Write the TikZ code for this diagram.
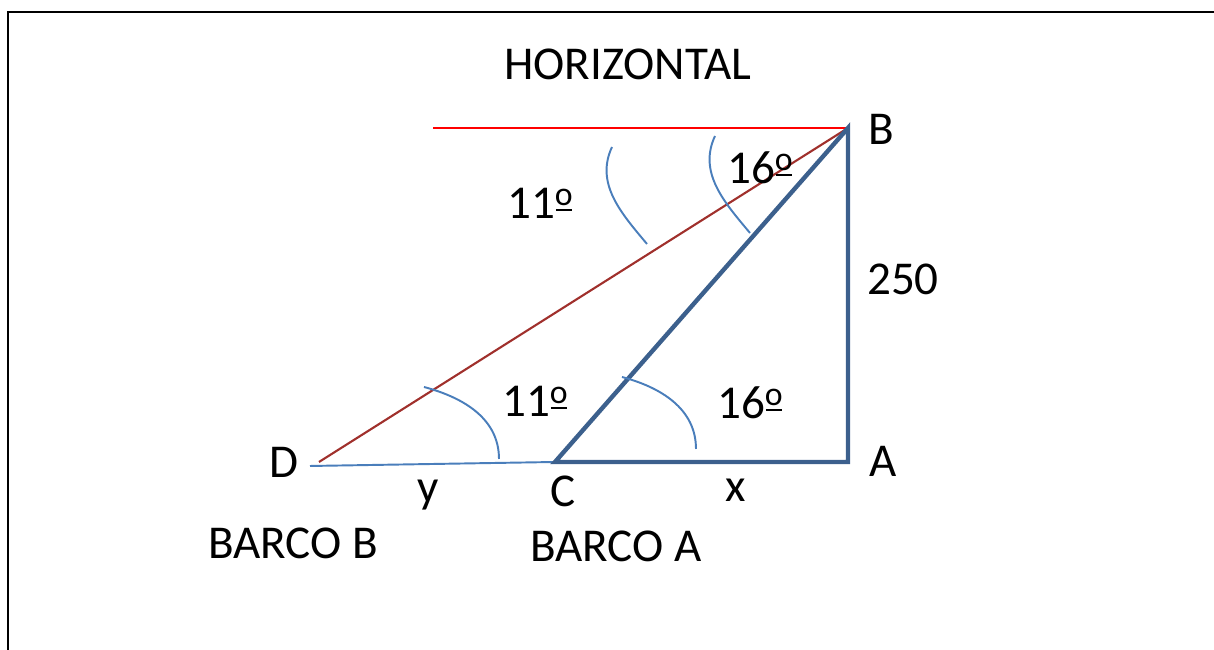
\documentclass[tikz,border=0pt]{standalone}
\usepackage{fontspec}
\setmainfont{Carlito}
\usepackage{tikz}
\definecolor{triblue}{RGB}{60,96,141}
\definecolor{arcblue}{RGB}{74,126,187}
\definecolor{linered}{RGB}{160,48,44}
\newcommand{\ordm}{\ooalign{\raisebox{0.29em}{\fontsize{9.6}{10}\selectfont o}\cr\hidewidth\rule[0.16em]{0.34em}{0.045em}\hidewidth\cr}}

\begin{document}
\begin{tikzpicture}[
    lbl/.style={anchor=base, inner sep=0pt, font=\fontsize{13.4}{16}\selectfont},
    arcline/.style={arcblue, line width=0.55pt},
    triline/.style={triblue, line width=1.25pt, line join=miter}
]
    % Frame
    \useasboundingbox (0,0) rectangle (12.14,6.50);
    \draw[line width=0.7pt] (0.08,0) -- (0.08,6.38) -- (12.14,6.38);

    % Points
    \coordinate (A) at (8.48,1.88);
    \coordinate (B) at (8.48,5.22);
    \coordinate (C) at (5.55,1.88);
    \coordinate (D) at (3.10,1.84);
    \coordinate (Dr) at (3.19,1.88);
    \coordinate (H) at (4.33,5.22);

    % Lines
    \draw[red, line width=0.6pt] (H) -- (B);
    \draw[linered, line width=0.6pt] (Dr) -- (B);
    \draw[arcline] (D) -- (C);
    \draw[triline] (C) -- (A) -- (B) -- cycle;

    % Angle arcs
    \draw[arcline] (6.22,2.73) to[out=-15, in=90] (6.96,2.01);
    \draw[arcline] (4.24,2.63) to[out=-15, in=90] (4.99,1.91);
    \draw[arcline] (7.15,5.14) to[out=-115, in=130] (7.50,4.17);
    \draw[arcline] (6.12,5.03) to[out=-115, in=130] (6.47,4.06);

    % Labels
    \node[lbl] (horiz) at (6.28,5.70) {HORIZONTAL};
    \node[lbl] (labB) at (8.81,5.05) {B};
    \node[lbl] (angB1) at (7.60,4.66) {16\ordm};
    \node[lbl] (angB2) at (5.40,4.31) {11\ordm};
    \node[lbl] (side) at (9.03,3.55) {250};
    \node[lbl] (angD) at (5.35,2.33) {11\ordm};
    \node[lbl] (angC) at (7.50,2.31) {16\ordm};
    \node[lbl] (labD) at (2.84,1.72) {D};
    \node[lbl] (labA) at (8.83,1.73) {A};
    \node[lbl] (laby) at (4.28,1.47) {y};
    \node[lbl] (labC) at (5.63,1.43) {C};
    \node[lbl] (labx) at (7.36,1.48) {x};
    \node[lbl] (barcoB) at (2.93,0.91) {BARCO B};
    \node[lbl] (barcoA) at (6.16,0.88) {BARCO A};
\end{tikzpicture}
\end{document}
